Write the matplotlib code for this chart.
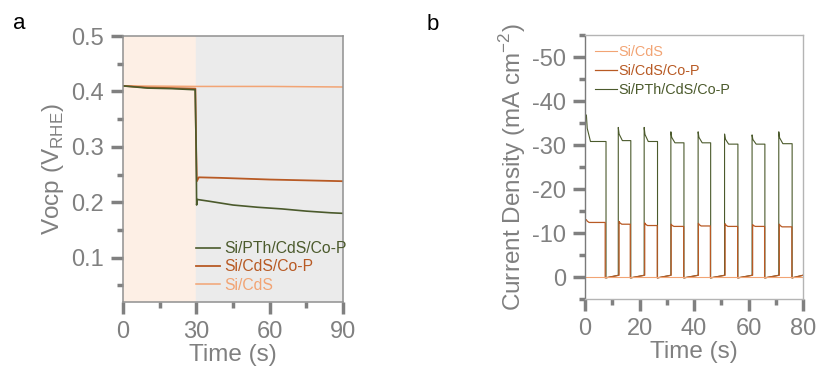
import numpy as np
import matplotlib.pyplot as plt
from matplotlib.ticker import MultipleLocator

plt.rcParams['font.family'] = ['Liberation Sans', 'DejaVu Sans']
plt.rcParams['axes.unicode_minus'] = False

GREY = '#808080'
C_PTH = '#4b5a2c'
C_COP = '#b85a24'
C_CDS = '#f2a474'

# ---- panel a: open-circuit potential ----
a_t_cds = [0, 30, 60, 90]
a_v_cds = [0.410, 0.409, 0.409, 0.408]

a_t_cop = [0, 10, 20, 29.6, 29.9, 30.2, 31, 40, 60, 90]
a_v_cop = [0.410, 0.407, 0.406, 0.405, 0.300, 0.238, 0.245, 0.244, 0.241, 0.238]

a_t_pth = [0, 10, 20, 29.5, 29.9, 30.1, 30.4, 35, 45, 55, 65, 75, 85, 90]
a_v_pth = [0.410, 0.406, 0.405, 0.403, 0.300, 0.195, 0.205, 0.202, 0.195,
           0.191, 0.188, 0.184, 0.181, 0.180]

# ---- panel b: chopped-light current density ----
b_t_cds = [0, 80]
b_j_cds = [0, 0]

pth_on = [0.5, 12.2, 21.7, 31.5, 41.5, 51.2, 61.3, 71.1]
pth_off = [7.7, 16.8, 26.6, 36.3, 46.1, 56.1, 66.0, 76.0]
pth_peak = [-36.8, -34.0, -34.0, -33.0, -33.0, -32.5, -32.3, -33.0]
pth_plateau = [-30.8, -31.0, -30.8, -30.5, -30.5, -30.2, -30.2, -30.3]

cop_on = [0.5, 12.5, 21.9, 31.6, 41.6, 51.4, 61.5, 71.3]
cop_off = [7.4, 16.6, 26.5, 36.2, 46.0, 56.0, 65.9, 75.9]
cop_peak = [-13.0, -12.6, -12.3, -12.0, -12.2, -12.1, -11.9, -12.0]
cop_plateau = [-12.4, -12.0, -11.7, -11.5, -11.6, -11.5, -11.5, -11.4]

off_start, off_end = 0.2, -0.4
t_end = 80


def chopped(ton, toff, peak, plateau, first_settle):
    t, j = [], []
    for i in range(len(ton)):
        if i > 0:
            t.append(ton[i]); j.append(off_end)
        t += [ton[i], ton[i] + 0.3, ton[i] + first_settle, toff[i], toff[i]]
        j += [peak[i], (peak[i] + plateau[i]) / 2, plateau[i], plateau[i], off_start]
    t.append(t_end); j.append(off_end)
    return t, j


b_t_pth, b_j_pth = chopped(pth_on, pth_off, pth_peak, pth_plateau, 1.5)
b_t_cop, b_j_cop = chopped(cop_on, cop_off, cop_peak, cop_plateau, 1.0)

fig = plt.figure(figsize=(8.18, 3.81), dpi=100)
ax1 = fig.add_axes([0.1504, 0.2073, 0.2690, 0.6982])
ax2 = fig.add_axes([0.7152, 0.2152, 0.2665, 0.6929])


def style_ticks(ax):
    ax.tick_params(which='major', direction='out', length=8.6, width=2.5,
                   color=GREY, labelcolor=GREY, labelsize=17, pad=5)
    ax.tick_params(which='minor', direction='out', length=4.3, width=2.5,
                   color=GREY)


# panel a
ax1.axvspan(0, 30, color='#fdefe5', zorder=0)
ax1.axvspan(30, 90, color='#ebebeb', zorder=0)
ax1.plot(a_t_cds, a_v_cds, color=C_CDS, lw=1.1, label='Si/CdS')
ax1.plot(a_t_cop, a_v_cop, color=C_COP, lw=1.3, label='Si/CdS/Co-P')
ax1.plot(a_t_pth, a_v_pth, color=C_PTH, lw=1.2, label='Si/PTh/CdS/Co-P')
ax1.set_xlim(0, 90)
ax1.set_ylim(0.02, 0.5)
ax1.xaxis.set_major_locator(MultipleLocator(30))
ax1.xaxis.set_minor_locator(MultipleLocator(15))
ax1.yaxis.set_minor_locator(MultipleLocator(0.05))
ax1.set_yticks([0.1, 0.2, 0.3, 0.4, 0.5])
ax1.set_yticklabels(['0.1', '0.2', '0.3', '0.4', '0.5'])
style_ticks(ax1)
for s in ax1.spines.values():
    s.set_color('#909090')
    s.set_linewidth(1.1)
ax1.set_xlabel('Time (s)', fontsize=17.5, color=GREY, labelpad=1)
ax1.set_ylabel('Vocp (V$_\\mathregular{RHE}$)', fontsize=17.5, color=GREY, labelpad=4)
h, l = ax1.get_legend_handles_labels()
leg1 = ax1.legend(h[::-1], l[::-1], loc='lower left', bbox_to_anchor=(0.29, 0.0),
                  frameon=False, fontsize=11.3, handlelength=1.5, handletextpad=0.3,
                  labelspacing=0.2, borderaxespad=0.2)
for txt, c in zip(leg1.get_texts(), [C_PTH, C_COP, C_CDS]):
    txt.set_color(c)

# panel b
ax2.plot(b_t_pth, b_j_pth, color=C_PTH, lw=0.8, label='Si/PTh/CdS/Co-P')
ax2.plot(b_t_cop, b_j_cop, color=C_COP, lw=0.9, label='Si/CdS/Co-P')
ax2.plot(b_t_cds, b_j_cds, color=C_CDS, lw=0.8, label='Si/CdS')
ax2.set_xlim(0, 80)
ax2.set_ylim(5, -55)
ax2.xaxis.set_major_locator(MultipleLocator(20))
ax2.xaxis.set_minor_locator(MultipleLocator(10))
ax2.set_yticks([-50, -40, -30, -20, -10, 0])
ax2.yaxis.set_minor_locator(MultipleLocator(5))
style_ticks(ax2)
for name, s in ax2.spines.items():
    s.set_linewidth(1.0)
    s.set_color('#7a7a7a' if name == 'left' else '#b4b4b4')
ax2.set_xlabel('Time (s)', fontsize=17.5, color=GREY, labelpad=1)
ax2.set_ylabel('Current Density (mA cm$^\\mathregular{-2}$)', fontsize=17.5,
               color=GREY, labelpad=3)
h, l = ax2.get_legend_handles_labels()
leg2 = ax2.legend(h[::-1], l[::-1], loc='upper left', bbox_to_anchor=(0.0, 1.0),
                  frameon=False, fontsize=10.4, handlelength=1.5, handletextpad=0.1,
                  labelspacing=0.35, borderaxespad=0.3)
for txt, c in zip(leg2.get_texts(), [C_CDS, C_COP, C_PTH]):
    txt.set_color(c)

fig.text(0.016, 0.925, 'a', fontsize=16, color='black')
fig.text(0.521, 0.922, 'b', fontsize=16, color='black')

fig.savefig('out.png', dpi=100)
